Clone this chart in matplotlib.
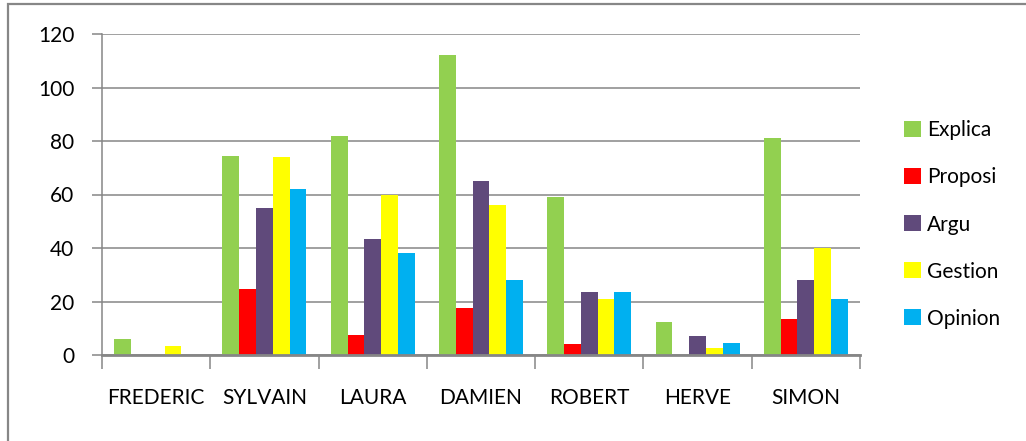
import matplotlib
matplotlib.use("Agg")
import matplotlib.pyplot as plt
from matplotlib.patches import Rectangle
import numpy as np

plt.rcParams['font.family'] = ['Lato', 'DejaVu Sans']

names = ["FREDERIC", "SYLVAIN", "LAURA", "DAMIEN", "ROBERT", "HERVE", "SIMON"]
series = ["Explica", "Proposi", "Argu", "Gestion", "Opinion"]
colors = ["#92D050", "#FF0000", "#604A7B", "#FFFF00", "#00B0F0"]

explica = [6, 74.5, 82, 112, 59, 12.5, 81]
proposi = [0, 24.5, 7.5, 17.5, 4, 0, 13.5]
argu = [0, 55, 43.5, 65, 23.5, 7, 28]
gestion = [3.5, 74, 60, 56, 21, 2.5, 40]
opinion = [0, 62, 38, 28, 23.5, 4.5, 21]
values = [explica, proposi, argu, gestion, opinion]

W, H = 1026, 441
fig = plt.figure(figsize=(W / 100, H / 100), dpi=100)
ax = fig.add_axes([102 / W, (H - 355) / H, (860 - 102) / W, (355 - 34) / H])

grey = "#868686"
x = np.arange(len(names))
bw = 0.155
for k, (lab, vals, col) in enumerate(zip(series, values, colors)):
    ax.bar(x + (k - 2) * bw, vals, width=bw, color=col, label=lab, zorder=3)

ax.set_xlim(-0.5, len(names) - 0.5)
ax.set_ylim(0, 120)
ax.set_yticks(range(0, 121, 20))
ax.yaxis.grid(True, color=grey, linewidth=1.1, zorder=0)
ax.set_axisbelow(True)

# category ticks sit between groups
ax.set_xticks(np.arange(-0.5, len(names), 1.0))
ax.set_xticklabels([])
ax.set_xticks(x, minor=True)
ax.set_xticklabels(names, minor=True)
ax.tick_params(axis='x', which='major', length=10, width=1.1, color=grey, direction='out')
ax.tick_params(axis='x', which='minor', length=0, pad=24, labelsize=15, labelcolor="#000000")
ax.tick_params(axis='y', length=7, width=1.1, color=grey, labelsize=15, pad=13)

for s in ["top", "right"]:
    ax.spines[s].set_visible(False)
ax.spines["left"].set_color(grey)
ax.spines["left"].set_linewidth(1.1)
ax.spines["bottom"].set_color(grey)
ax.spines["bottom"].set_linewidth(2)
ax.spines["bottom"].set_zorder(4)

leg = fig.legend(loc="upper left", bbox_to_anchor=(896 / W, 1 - 112 / H), frameon=False,
                 fontsize=15, handlelength=0.8, handleheight=0.8, handletextpad=0.3,
                 labelspacing=1.3, borderaxespad=0)

# outer chart frame
fig.patches.append(Rectangle((8 / W, -0.1), 1.2, 1 - 4 / H + 0.1, transform=fig.transFigure,
                             fill=False, edgecolor="#878787", linewidth=1.6))

fig.savefig("out.png", dpi=100)
